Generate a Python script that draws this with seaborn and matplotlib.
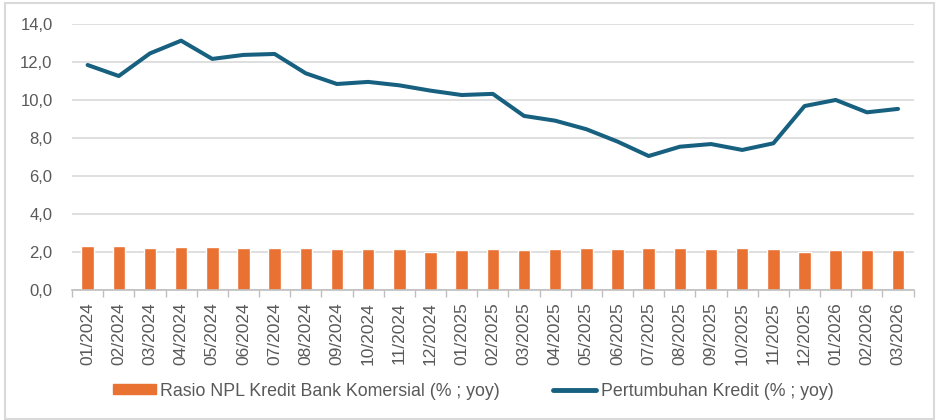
import numpy as np
import pandas as pd
import seaborn as sns
import matplotlib.pyplot as plt
from matplotlib.patches import Rectangle
from matplotlib.lines import Line2D
from matplotlib.ticker import FuncFormatter, FixedLocator

# Data
periode = ["01/2024", "02/2024", "03/2024", "04/2024", "05/2024", "06/2024",
           "07/2024", "08/2024", "09/2024", "10/2024", "11/2024", "12/2024",
           "01/2025", "02/2025", "03/2025", "04/2025", "05/2025", "06/2025",
           "07/2025", "08/2025", "09/2025", "10/2025", "11/2025", "12/2025",
           "01/2026", "02/2026", "03/2026"]
npl = [2.32, 2.32, 2.21, 2.26, 2.26, 2.21, 2.21, 2.21, 2.16, 2.16, 2.16, 2.00,
       2.10, 2.16, 2.10, 2.16, 2.21, 2.16, 2.21, 2.21, 2.16, 2.21, 2.16, 2.00,
       2.10, 2.10, 2.10]
kredit = [11.84, 11.26, 12.45, 13.12, 12.16, 12.37, 12.42, 11.40, 10.84, 10.95,
          10.77, 10.49, 10.26, 10.32, 9.16, 8.91, 8.46, 7.81, 7.05, 7.54, 7.68,
          7.37, 7.72, 9.68, 10.00, 9.35, 9.53]

label_npl = "Rasio NPL Kredit Bank Komersial (% ; yoy)"
label_kredit = "Pertumbuhan Kredit (% ; yoy)"

df = pd.DataFrame({"periode": periode, "npl": npl, "kredit": kredit})

# Style
sns.set_style("white")
plt.rcParams["font.family"] = ["Liberation Sans", "DejaVu Sans"]
orange = "#e97132"
blue = "#17607f"
grey_txt = "#595959"
grey_line = "#d9d9d9"

fig = plt.figure(figsize=(9.39, 4.2), dpi=100)
ax = fig.add_axes([0.0767, 0.3095, 0.8963, 0.6335])

sns.barplot(data=df, x="periode", y="npl", color=orange, width=0.4,
            saturation=1, ax=ax, zorder=2)
sns.lineplot(x=df.index, y=df["kredit"], color=blue, linewidth=2.9,
             ax=ax, zorder=3)

ax.set_xlim(-0.5, len(periode) - 0.5)
ax.set_ylim(0, 14)
ax.set_yticks(np.arange(0, 15, 2))
ax.yaxis.set_major_formatter(FuncFormatter(lambda v, p: f"{v:.1f}".replace(".", ",")))
ax.grid(axis="y", color=grey_line, linewidth=1.2, zorder=0)
ax.set_axisbelow(True)

ax.set_xlabel("")
ax.set_ylabel("")
ax.set_xticks(range(len(periode)))
ax.set_xticklabels(periode, rotation=90)
ax.xaxis.set_minor_locator(FixedLocator(np.arange(-0.5, len(periode), 1)))
ax.tick_params(axis="x", which="major", length=0, pad=9, labelsize=12.5, labelcolor=grey_txt)
ax.tick_params(axis="x", which="minor", length=5, color="#bfbfbf", width=1, bottom=True)
ax.tick_params(axis="y", length=0, pad=14, labelsize=12, labelcolor=grey_txt)

for s in ["top", "right", "left"]:
    ax.spines[s].set_visible(False)
ax.spines["bottom"].set_color("#bfbfbf")
ax.spines["bottom"].set_linewidth(1.2)

# Legend
handles = [Rectangle((0, 0), 1, 1, color=orange),
           Line2D([0], [0], color=blue, linewidth=3.5)]
fig.legend(handles, [label_npl, label_kredit], loc="center",
           bbox_to_anchor=(0.504, 0.069), ncol=2, frameon=False,
           fontsize=12.8, handlelength=2.4, handleheight=0.5,
           handletextpad=0.25, columnspacing=3.0, labelcolor=grey_txt)

# Outer border
fig.patches.append(Rectangle((0.005, 0.003), 0.99, 0.99, transform=fig.transFigure,
                             fill=False, edgecolor="#d9d9d9", linewidth=1.5))

fig.savefig("out.png", dpi=100)
